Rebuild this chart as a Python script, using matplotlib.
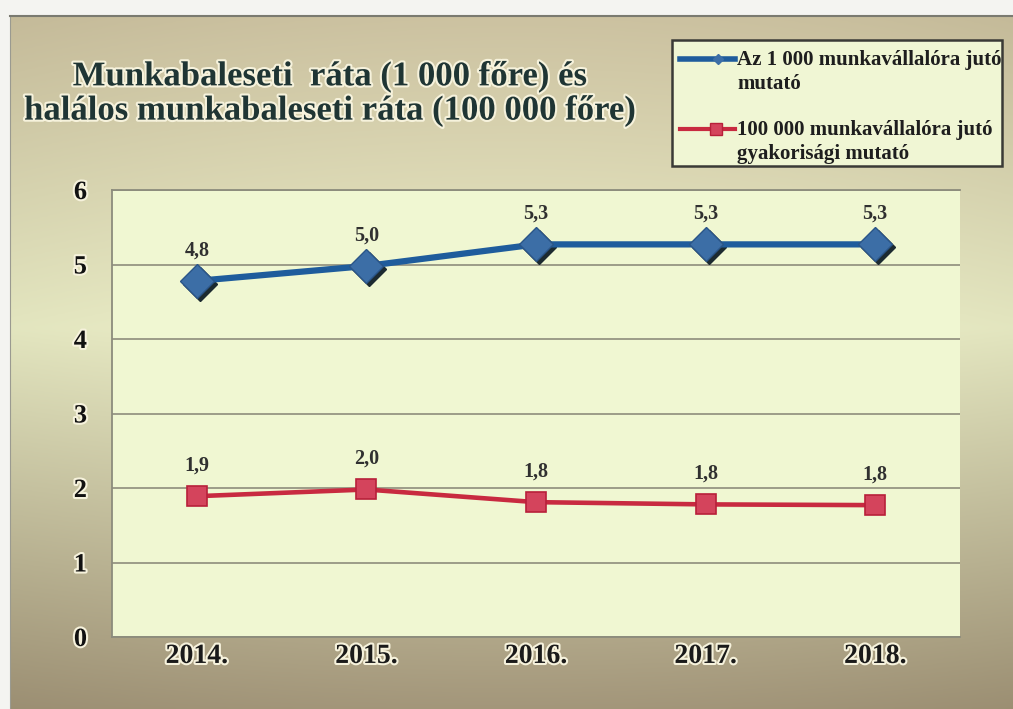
import numpy as np
import matplotlib
matplotlib.use('Agg')
from matplotlib import pyplot as plt
from matplotlib import patheffects as pe
from matplotlib.transforms import offset_copy
from matplotlib.lines import Line2D
from matplotlib.patches import Rectangle

# adatok
years = ['2014.', '2015.', '2016.', '2017.', '2018.']
rate_1000 = [4.78, 4.98, 5.27, 5.27, 5.27]
rate_100000 = [1.89, 1.98, 1.81, 1.78, 1.77]
label_1000 = 'Az 1 000 munkavállalóra jutó\nmutató'
label_100000 = '100 000 munkavállalóra jutó\ngyakorisági mutató'
title = 'Munkabaleseti  ráta (1 000 főre) és\nhalálos munkabaleseti ráta (100 000 főre)'

plt.rcParams['font.family'] = ['Liberation Serif', 'DejaVu Serif']
plt.rcParams['font.weight'] = 'bold'

W, H = 1013, 709
fig = plt.figure(figsize=(W / 100, H / 100), dpi=100, facecolor='#f4f4f1')

# hatter szinatmenet
bg = fig.add_axes([10 / W, 0, 1 - 10 / W, 1 - 16 / H])
t = np.linspace(0, 1, 300)[:, None]
s = np.linspace(0, 1, 400)[None, :]
stops = [0.0, 0.45, 1.0]
cols = np.array([[0.80, 0.76, 0.63], [0.92, 0.93, 0.78], [0.64, 0.59, 0.48]])
img = np.zeros((300, 400, 3))
for c in range(3):
    v = np.interp(t[:, 0], stops, cols[:, c])[:, None]
    img[:, :, c] = v - 0.03 * (abs(s - 0.5) * 2) ** 2
bg.imshow(np.clip(img, 0, 1), aspect='auto', extent=[0, 1, 0, 1])
bg.set_xticks([])
bg.set_yticks([])
for sp in bg.spines.values():
    sp.set_visible(False)
bg.spines['top'].set_visible(True)
bg.spines['left'].set_visible(True)
bg.spines['top'].set_color('#7a7a70')
bg.spines['left'].set_color('#9a9a90')
bg.spines['top'].set_linewidth(1.5)

halo = [pe.withStroke(linewidth=3, foreground='#f6f2dc')]

ax = fig.add_axes([112 / W, 1 - 637 / H, (960 - 112) / W, (637 - 190) / H])
ax.set_facecolor('#f0f7d2')
x = np.arange(len(years))

# arnyek a rombuszok alatt
shadow = offset_copy(ax.transData, fig=fig, x=3, y=-3, units='dots')
ax.plot(x, rate_1000, 'D', ms=17, color='#1c2a30', transform=shadow, zorder=3)
ax.plot(x, rate_1000, '-', color='#1f5c9c', lw=4.5, zorder=3.5,
        solid_capstyle='round')
ax.plot(x, rate_1000, 'D', ms=17, color='#3c6ea6', mec='#2a5588', mew=1, zorder=4)
ax.plot(x, rate_100000, '-s', color='#c82a40', lw=3.3, ms=14.5,
        mfc='#d4445c', mec='#b8203a', mew=1.2, zorder=4)

for xi, v in zip(x, rate_1000):
    ax.annotate(f'{v:.1f}'.replace('.', ','), (xi, v), xytext=(0, 22),
                textcoords='offset points', ha='center', va='center',
                fontsize=14.5, color='#303030')
for xi, v in zip(x, rate_100000):
    ax.annotate(f'{v:.1f}'.replace('.', ','), (xi, v), xytext=(0, 22),
                textcoords='offset points', ha='center', va='center',
                fontsize=14.5, color='#303030')

ax.set_xlim(-0.5, len(years) - 0.5)
ax.set_ylim(0, 6)
ax.set_yticks(range(0, 7))
ax.set_xticks(x)
ax.set_xticklabels(years)
ax.grid(axis='y', color='#9c9c88', lw=1.4)
ax.set_axisbelow(True)
ax.tick_params(length=0)
ax.tick_params(axis='y', pad=18, labelsize=19, colors='#111111')
ax.tick_params(axis='x', pad=5, labelsize=20, colors='#1a1a1a')
for lab in ax.get_xticklabels() + ax.get_yticklabels():
    lab.set_path_effects(halo)
for sp in ['left', 'bottom', 'top']:
    ax.spines[sp].set_color('#8c8c7c')
    ax.spines[sp].set_linewidth(1.3)
ax.spines['left'].set_linestyle((0, (2, 1)))
ax.spines['right'].set_visible(False)

fig.text(330 / W, 1 - 94 / H, title, ha='center', va='center', fontsize=25,
         color='#1f3534', linespacing=1.05, path_effects=halo)

# jelmagyarazat kezzel
fx = lambda px: px / W
fy = lambda py: 1 - py / H
fig.patches.append(Rectangle((fx(672), fy(166)), fx(1002) - fx(672), fy(40) - fy(166),
                             transform=fig.transFigure, facecolor='#f0f6d4',
                             edgecolor='#3a3a36', lw=1.8, zorder=5))
fig.add_artist(Line2D([fx(680), fx(735)], [fy(59), fy(59)], color='#1f5c9c', lw=4,
                      zorder=6))
fig.add_artist(Line2D([fx(718)], [fy(59)], marker='D', ms=5, color='#3c6ea6',
                      zorder=6))
fig.add_artist(Line2D([fx(680), fx(735)], [fy(129), fy(129)], color='#c82a40', lw=3,
                      zorder=6))
fig.add_artist(Line2D([fx(716)], [fy(129)], marker='s', ms=8, color='#d4445c',
                      mec='#b8203a', zorder=6))
for lab, py in [(label_1000, 50), (label_100000, 120)]:
    fig.text(fx(737), fy(py), lab, ha='left', va='top', fontsize=15,
             color='#1e1e1e', linespacing=1.25, zorder=7)

fig.savefig('out.png', dpi=100, facecolor=fig.get_facecolor())
